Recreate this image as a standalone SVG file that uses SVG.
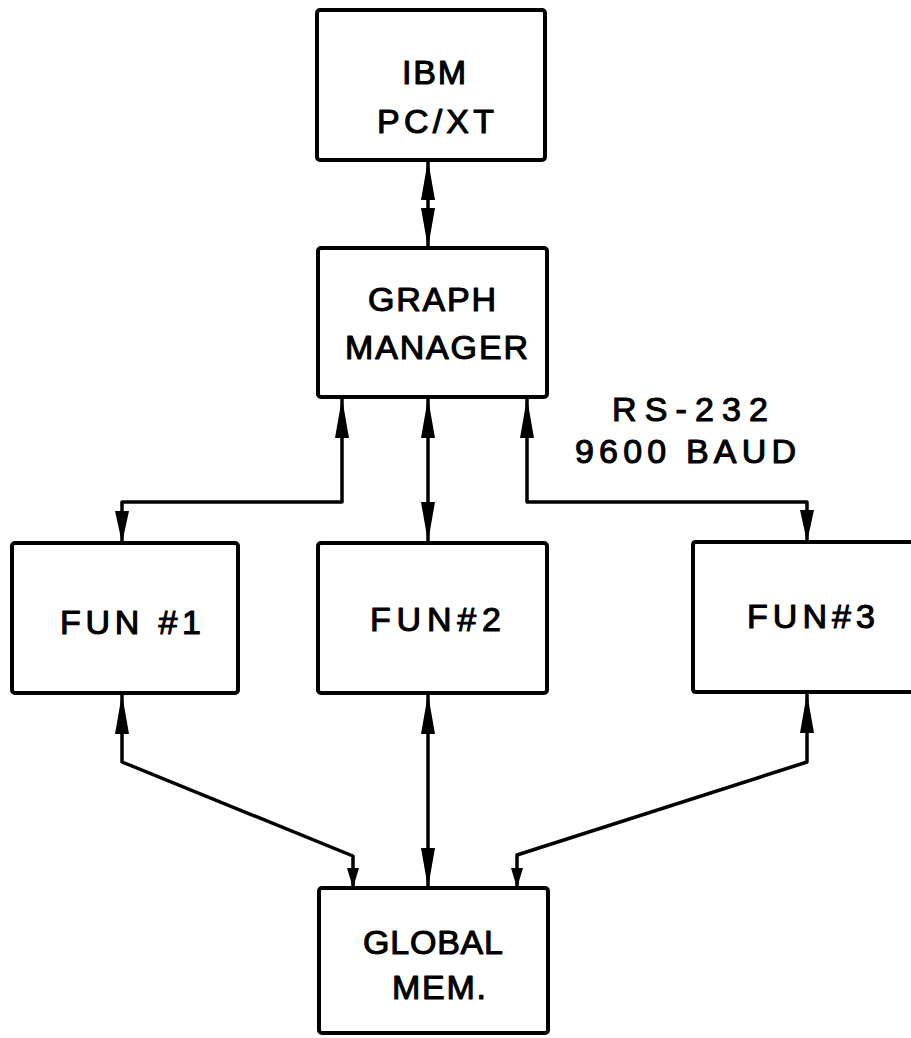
<svg xmlns="http://www.w3.org/2000/svg" width="911" height="1038" viewBox="0 0 911 1038">
<style>
.box{fill:#fff;stroke:#000;stroke-width:4;stroke-linejoin:round}
.open{fill:none;stroke:#000;stroke-width:4;stroke-linejoin:round}
.con{fill:none;stroke:#000;stroke-width:3.5;stroke-linejoin:round}
.lbl{font-family:"Liberation Sans",Arial,sans-serif;font-size:34px;fill:#000;stroke:#000;stroke-width:1.1;stroke-linejoin:round}
</style>
<defs>
<marker id="aL" viewBox="0 0 40 15" refX="40" refY="7.5" markerWidth="40" markerHeight="15" markerUnits="userSpaceOnUse" orient="auto-start-reverse"><path d="M0,0.5 L40,7.5 L0,14.5 Z" fill="#000"/></marker>
<marker id="aM" viewBox="0 0 32 15" refX="32" refY="7.5" markerWidth="32" markerHeight="15" markerUnits="userSpaceOnUse" orient="auto-start-reverse"><path d="M0,0.5 L32,7.5 L0,14.5 Z" fill="#000"/></marker>
<marker id="aS" viewBox="0 0 20 13" refX="20" refY="6.5" markerWidth="20" markerHeight="13" markerUnits="userSpaceOnUse" orient="auto-start-reverse"><path d="M0,0.5 L20,6.5 L0,12.5 Z" fill="#000"/></marker>
</defs>
<rect width="911" height="1038" fill="#fff"/>
<g id="connectors">
<line class="con" x1="428" y1="160" x2="428" y2="248" marker-start="url(#aL)" marker-end="url(#aL)"/>
<polyline class="con" points="342,398 342,502 122,502 122,543" marker-start="url(#aL)" marker-end="url(#aM)"/>
<line class="con" x1="428" y1="398" x2="428" y2="542" marker-start="url(#aL)" marker-end="url(#aL)"/>
<polyline class="con" points="527,398 527,502 807,502 807,542" marker-start="url(#aL)" marker-end="url(#aM)"/>
<polyline class="con" points="122,694 122,762 353,856 353,888" marker-start="url(#aL)" marker-end="url(#aS)"/>
<line class="con" x1="428" y1="694" x2="428" y2="888" marker-start="url(#aL)" marker-end="url(#aL)"/>
<polyline class="con" points="807,693 807,762 517,855 517,888" marker-start="url(#aL)" marker-end="url(#aS)"/>
</g>
<g id="ibm">
<rect class="box" x="317" y="10" width="228" height="150" rx="3"/>
<text class="lbl" x="402" y="84" textLength="64" lengthAdjust="spacing">IBM</text>
<text class="lbl" x="377" y="133" textLength="117" lengthAdjust="spacing">PC/XT</text>
</g>
<g id="graph-manager">
<rect class="box" x="318" y="248" width="229" height="149" rx="3"/>
<text class="lbl" x="368" y="311" textLength="128" lengthAdjust="spacing">GRAPH</text>
<text class="lbl" x="345" y="359" textLength="183" lengthAdjust="spacing">MANAGER</text>
</g>
<g id="rs232-label">
<text class="lbl" x="612" y="421" textLength="156" lengthAdjust="spacing">RS-232</text>
<text class="lbl" x="575" y="463" textLength="221" lengthAdjust="spacing">9600 BAUD</text>
</g>
<g id="fun1">
<rect class="box" x="12" y="543" width="226" height="150" rx="3"/>
<text class="lbl" x="60" y="634" textLength="141" lengthAdjust="spacing">FUN #1</text>
</g>
<g id="fun2">
<rect class="box" x="318" y="543" width="229" height="150" rx="3"/>
<text class="lbl" x="370" y="631" textLength="131" lengthAdjust="spacing">FUN#2</text>
</g>
<g id="fun3">
<path class="open" d="M913,542 L696,542 Q693,542 693,545 L693,689 Q693,692 696,692 L913,692"/>
<text class="lbl" x="747" y="628" textLength="128" lengthAdjust="spacing">FUN#3</text>
</g>
<g id="global-mem">
<rect class="box" x="319" y="888" width="229" height="145" rx="3"/>
<text class="lbl" x="363" y="954" textLength="140" lengthAdjust="spacing">GLOBAL</text>
<text class="lbl" x="392" y="999" textLength="94" lengthAdjust="spacing">MEM.</text>
</g>
</svg>
